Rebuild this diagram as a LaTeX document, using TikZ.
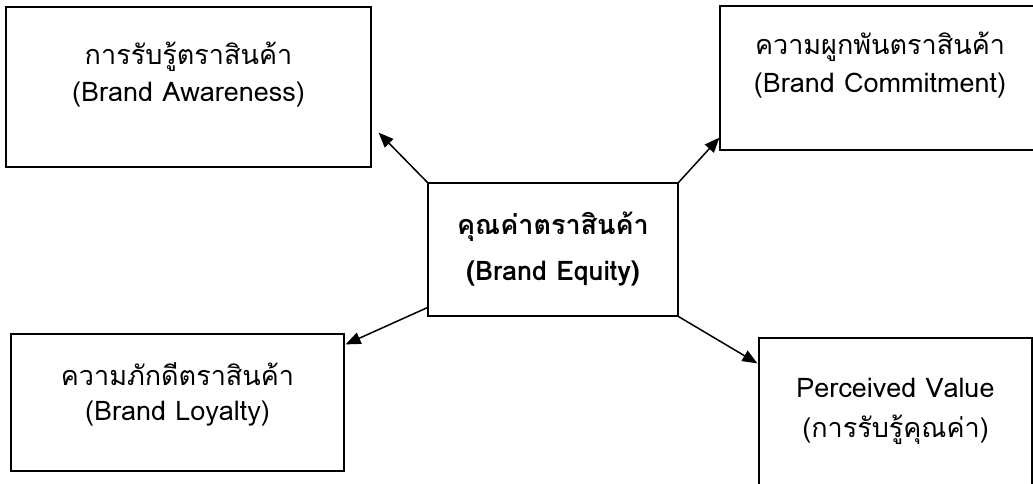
\documentclass[tikz,border=0pt]{standalone}
\usepackage{fontspec}
\setmainfont[Script=Thai]{Loma}
\usetikzlibrary{arrows.meta,calc}
\begin{document}
\begin{tikzpicture}[x=1pt,y=-1pt,
  box/.style={draw,line width=1.2pt,rectangle,inner sep=0pt,align=center,font=\fontsize{27}{37}\selectfont},
  link/.style={line width=1.5pt,-{Triangle[length=15pt,width=12pt]}}]
\useasboundingbox (0,0) rectangle (1033,484);
\node[box,minimum width=365,minimum height=160,text height=95,text depth=65] (aware) at (188.5,87) {การรับรู้ตราสินค้า\\(Brand Awareness)};
\node[box,minimum width=320,minimum height=144,text height=87,text depth=57,font=\fontsize{27}{38}\selectfont] (commit) at (880,78) {ความผูกพันตราสินค้า\\(Brand Commitment)};
\node[box,minimum width=250,minimum height=133,font=\bfseries\fontsize{27}{46}\selectfont] (equity) at (553,249.5) {คุณค่าตราสินค้า\\(Brand Equity)};
\node[box,minimum width=333,minimum height=137,text height=86,text depth=51,font=\fontsize{27}{35}\selectfont] (loyal) at (177.5,402.5) {ความภักดีตราสินค้า\\(Brand Loyalty)};
\node[box,minimum width=273,minimum height=162,text height=99,text depth=63,font=\fontsize{27}{40}\selectfont] (percv) at (895.5,419) {Perceived Value\\(การรับรู้คุณค่า)};
\draw[link] (equity.north west) -- ($(aware.south east)+(7,-35)$);
\draw[link] (equity.north east) -- ($(commit.south west)+(0,-13)$);
\draw[link] ($(equity.south west)+(0,-9)$) -- ($(loyal.north east)+(1,11)$);
\draw[link] (equity.south east) -- ($(percv.north west)+(-1,26)$);
\end{tikzpicture}
\end{document}
